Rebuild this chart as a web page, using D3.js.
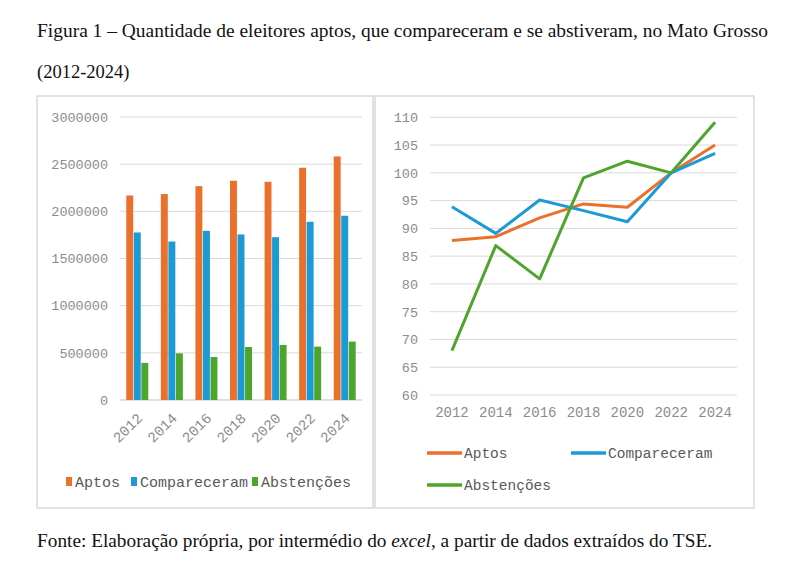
<!DOCTYPE html>
<html>
<head>
<meta charset="utf-8">
<script src="https://cdn.jsdelivr.net/npm/d3@7"></script>
<style>
  body { margin: 0; background: #fff; }
  svg { display: block; }
</style>
</head>
<body>
<svg id="chart" width="800" height="568"></svg>
<script>
// Data
const years = ["2012","2014","2016","2018","2020","2022","2024"];
const series = ["Aptos","Compareceram","Abstenções"];
const aptos = [2168000, 2183000, 2267000, 2324000, 2313000, 2462000, 2582000];
const compareceram = [1776000, 1680000, 1793000, 1755000, 1726000, 1889000, 1953000];
const abstencoes = [393000, 495000, 456000, 562000, 584000, 566000, 619000];
// index, 2022 = 100
const aptosIdx = [87.8, 88.5, 91.9, 94.4, 93.8, 100, 105.0];
const compIdx = [93.9, 89.1, 95.1, 93.2, 91.2, 100, 103.5];
const abstIdx = [68.0, 86.9, 80.9, 99.1, 102.1, 100, 109.1];
const barTicks = [0, 500000, 1000000, 1500000, 2000000, 2500000, 3000000];
const lineTicks = [60, 65, 70, 75, 80, 85, 90, 95, 100, 105, 110];

const colors = {"Aptos":"#ea712c","Compareceram":"#1b9ad6","Abstenções":"#4ea52d"};
const mono = "'Liberation Mono', 'DejaVu Sans Mono', monospace";
const serif = "'Liberation Serif', 'DejaVu Serif', serif";

const svg = d3.select("#chart");
svg.append("rect").attr("width",800).attr("height",568).attr("fill","#fff");

// Title
svg.append("text").attr("x",37).attr("y",37)
  .attr("font-family",serif).attr("font-size",18.5).attr("fill","#111")
  .attr("textLength",731).attr("lengthAdjust","spacingAndGlyphs")
  .text("Figura 1 – Quantidade de eleitores aptos, que compareceram e se abstiveram, no Mato Grosso");
svg.append("text").attr("x",37).attr("y",78)
  .attr("font-family",serif).attr("font-size",18.5).attr("fill","#111")
  .text("(2012-2024)");

// Panels
svg.append("rect").attr("x",37).attr("y",96).attr("width",336).attr("height",412)
  .attr("fill","#fff").attr("stroke","#d9d9d9").attr("stroke-width",1.5);
svg.append("rect").attr("x",375).attr("y",96).attr("width",379).attr("height",412)
  .attr("fill","#fff").attr("stroke","#d9d9d9").attr("stroke-width",1.5);

// ---- Bar chart ----
const x0 = d3.scaleBand().domain(years).range([120,362]).padding(0);
const groupW = 22;
const x1 = d3.scaleBand().domain(series).range([0,groupW]).paddingInner(0.08);
const yB = d3.scaleLinear().domain([0,3000000]).range([400,117]);

const gB = svg.append("g");
gB.selectAll("line.grid").data(barTicks).join("line")
  .attr("x1",120).attr("x2",362)
  .attr("y1",d=>yB(d)).attr("y2",d=>yB(d))
  .attr("stroke",d=>d===0?"#bfbfbf":"#d9d9d9").attr("stroke-width",1);

const yAxisB = d3.axisLeft(yB).tickValues(barTicks).tickFormat(d3.format("d")).tickSize(0).tickPadding(12);
gB.append("g").attr("transform","translate(120,0)").call(yAxisB)
  .call(g=>g.select(".domain").remove())
  .selectAll("text").attr("font-family",mono).attr("font-size",13.5).attr("fill","#8c8c8c");

const barData = years.map((yr,i)=>({year:yr, vals:[
  {s:"Aptos", v:aptos[i]},
  {s:"Compareceram", v:compareceram[i]},
  {s:"Abstenções", v:abstencoes[i]}
]}));

const groups = gB.selectAll("g.grp").data(barData).join("g")
  .attr("transform",d=>`translate(${x0(d.year)+(x0.bandwidth()-groupW)/2},0)`);
groups.selectAll("rect").data(d=>d.vals).join("rect")
  .attr("x",d=>x1(d.s)).attr("width",x1.bandwidth())
  .attr("y",d=>yB(d.v)).attr("height",d=>yB(0)-yB(d.v))
  .attr("fill",d=>colors[d.s]);

gB.selectAll("text.xl").data(years).join("text")
  .attr("class","xl")
  .attr("transform",d=>`translate(${x0(d)+x0.bandwidth()/2+6},${419}) rotate(-45)`)
  .attr("text-anchor","end")
  .attr("font-family",mono).attr("font-size",14.5).attr("fill","#8c8c8c")
  .text(d=>d);

// bar legend
const legB = [{s:"Aptos",x:66},{s:"Compareceram",x:131},{s:"Abstenções",x:252}];
const lb = gB.selectAll("g.lb").data(legB).join("g")
  .attr("transform",d=>`translate(${d.x},482)`);
lb.append("rect").attr("x",0).attr("y",-5).attr("width",6).attr("height",9)
  .attr("fill",d=>colors[d.s]);
lb.append("text").attr("x",9).attr("y",5)
  .attr("font-family",mono).attr("font-size",15).attr("fill","#595959")
  .text(d=>d.s);

// ---- Line chart ----
const xL = d3.scaleBand().domain(years).range([430,737]).padding(0);
const yL = d3.scaleLinear().domain([60,110]).range([395,117.3]);
const gL = svg.append("g");

gL.selectAll("line.grid").data(lineTicks).join("line")
  .attr("x1",430).attr("x2",737)
  .attr("y1",d=>yL(d)).attr("y2",d=>yL(d))
  .attr("stroke","#d9d9d9").attr("stroke-width",1);

gL.append("g").attr("transform","translate(430,0)")
  .call(d3.axisLeft(yL).tickValues(lineTicks).tickSize(0).tickPadding(12))
  .call(g=>g.select(".domain").remove())
  .selectAll("text").attr("font-family",mono).attr("font-size",13.5).attr("fill","#8c8c8c");

gL.append("g").attr("transform","translate(0,395)")
  .call(d3.axisBottom(xL).tickSize(0).tickPadding(12))
  .call(g=>g.select(".domain").remove())
  .selectAll("text").attr("font-family",mono).attr("font-size",14).attr("fill","#8c8c8c");

const lineData = [
  {s:"Aptos", vals:aptosIdx},
  {s:"Compareceram", vals:compIdx},
  {s:"Abstenções", vals:abstIdx}
];
const line = d3.line()
  .x((d,i)=>xL(years[i])+xL.bandwidth()/2)
  .y(d=>yL(d));
gL.selectAll("path.series").data(lineData).join("path")
  .attr("class","series")
  .attr("d",d=>line(d.vals))
  .attr("fill","none").attr("stroke",d=>colors[d.s])
  .attr("stroke-width",3).attr("stroke-linejoin","round");

// line legend
const legL = [{s:"Aptos",x:427,y:453},{s:"Compareceram",x:571,y:453},{s:"Abstenções",x:427,y:485}];
const ll = gL.selectAll("g.ll").data(legL).join("g")
  .attr("transform",d=>`translate(${d.x},${d.y})`);
ll.append("line").attr("x1",0).attr("x2",35).attr("y1",0).attr("y2",0)
  .attr("stroke",d=>colors[d.s]).attr("stroke-width",3.5);
ll.append("text").attr("x",37).attr("y",5)
  .attr("font-family",mono).attr("font-size",14.5).attr("fill","#595959")
  .text(d=>d.s);

// Footer
const foot = svg.append("text").attr("x",37).attr("y",547)
  .attr("font-family",serif).attr("font-size",18).attr("fill","#111")
  .attr("textLength",675).attr("lengthAdjust","spacingAndGlyphs");
foot.append("tspan").text("Fonte: Elaboração própria, por intermédio do ");
foot.append("tspan").attr("font-style","italic").text("excel");
foot.append("tspan").text(", a partir de dados extraídos do TSE.");
</script>
</body>
</html>
